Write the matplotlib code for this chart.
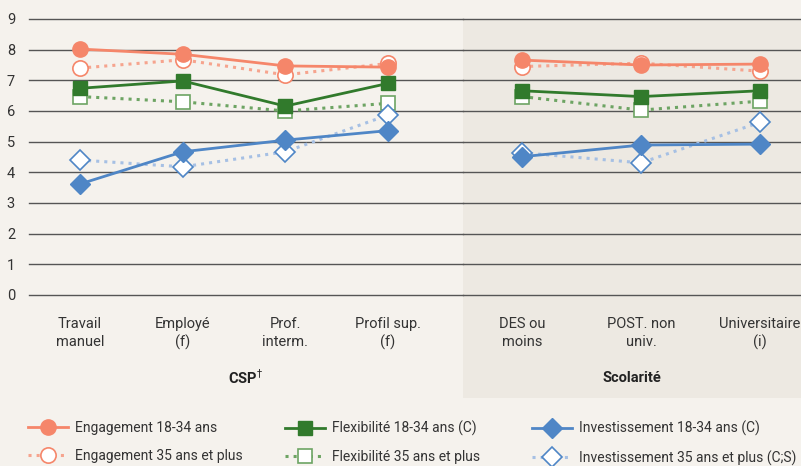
import matplotlib.pyplot as plt
from matplotlib.patches import Rectangle

plt.rcParams['font.family'] = ['Roboto', 'DejaVu Sans']

csp = ['Travail\nmanuel', 'Employé\n(f)', 'Prof.\ninterm.', 'Profil sup.\n(f)']
scol = ['DES ou\nmoins', 'POST. non\nuniv.', 'Universitaire\n(i)']

# CSP group
eng_jeune_csp = [8.02, 7.85, 7.47, 7.43]
eng_vieux_csp = [7.40, 7.67, 7.18, 7.55]
flex_jeune_csp = [6.74, 6.98, 6.16, 6.90]
flex_vieux_csp = [6.47, 6.30, 6.00, 6.25]
inv_jeune_csp = [3.62, 4.67, 5.05, 5.36]
inv_vieux_csp = [4.40, 4.18, 4.67, 5.87]

# Scolarite group
eng_jeune_sco = [7.66, 7.50, 7.53]
eng_vieux_sco = [7.45, 7.56, 7.30]
flex_jeune_sco = [6.66, 6.47, 6.66]
flex_vieux_sco = [6.47, 6.03, 6.32]
inv_jeune_sco = [4.51, 4.89, 4.92]
inv_vieux_sco = [4.64, 4.31, 5.63]

labels = ['Engagement 18-34 ans', 'Engagement 35 ans et plus',
          'Flexibilité 18-34 ans (C)', 'Flexibilité 35 ans et plus',
          'Investissement 18-34 ans (C)', 'Investissement 35 ans et plus (C;S)']

orange = '#f5866a'
orange_l = '#f6a48e'
green = '#317a2c'
green_l = '#6da463'
blue = '#4f86c6'
blue_l = '#a6c0e4'
bg = '#f5f2ed'
shade = '#ede9e2'

fig = plt.figure(figsize=(8.01, 4.66), dpi=100, facecolor=bg)
W, H = 801, 466

# shaded Scolarite panel
fig.patches.append(Rectangle((463 / W, 1 - 398 / H), 1 - 463 / W, (398 - 19) / H,
                             transform=fig.transFigure, facecolor=shade,
                             edgecolor='none', zorder=0))

y0 = 1 - 295 / H
h = (295 - 19) / H
ax1 = fig.add_axes([29 / W, y0, (463 - 29) / W, h], zorder=2)
ax2 = fig.add_axes([463 / W, y0, 1 - 463 / W, h], zorder=2)


def draw(ax, cats, data, xlim):
    x = list(range(len(cats)))
    ax.set_facecolor('none')
    ax.set_xlim(*xlim)
    ax.set_ylim(0, 9)
    for yy in range(10):
        ax.axhline(yy, color='#555555', lw=1.0, zorder=1, clip_on=False)
    e1, e2, f1, f2, i1, i2 = data
    hs = []
    hs.append(ax.plot(x, e1, '-', color=orange, lw=2, marker='o', ms=11,
                      mfc=orange, mec=orange, zorder=6, clip_on=False)[0])
    hs.append(ax.plot(x, e2, ':', color=orange_l, lw=2.2, marker='o', ms=11,
                      mfc='white', mec=orange, mew=1.2, zorder=5, clip_on=False)[0])
    hs.append(ax.plot(x, f1, '-', color=green, lw=2, marker='s', ms=10,
                      mfc=green, mec=green, zorder=6, clip_on=False)[0])
    hs.append(ax.plot(x, f2, ':', color=green_l, lw=2.2, marker='s', ms=10,
                      mfc='white', mec=green_l, mew=1.2, zorder=5, clip_on=False)[0])
    hs.append(ax.plot(x, i1, '-', color=blue, lw=2, marker='D', ms=10,
                      mfc=blue, mec=blue, zorder=6, clip_on=False)[0])
    hs.append(ax.plot(x, i2, ':', color=blue_l, lw=2.2, marker='D', ms=10,
                      mfc='white', mec=blue, mew=1.2, zorder=5, clip_on=False)[0])
    ax.set_xticks(x)
    ax.set_xticklabels(cats, fontsize=10.5, color='#333333', linespacing=1.3)
    ax.tick_params(axis='x', length=0, pad=16)
    for s in ax.spines.values():
        s.set_visible(False)
    return hs


handles = draw(ax1, csp, [eng_jeune_csp, eng_vieux_csp, flex_jeune_csp,
                          flex_vieux_csp, inv_jeune_csp, inv_vieux_csp], (-0.497, 3.73))
draw(ax2, scol, [eng_jeune_sco, eng_vieux_sco, flex_jeune_sco,
                 flex_vieux_sco, inv_jeune_sco, inv_vieux_sco], (-0.496, 2.345))

ax1.set_yticks(range(10))
ax1.set_yticklabels([str(v) for v in range(10)], fontsize=10.5, color='#333333')
ax1.tick_params(axis='y', length=0, pad=10)
ax2.set_yticks([])

ax1.text(0.5, -0.30, 'CSP$^{\\dagger}$', transform=ax1.transAxes, ha='center',
         va='center', fontsize=10.5, fontweight='bold', color='#222222')
ax2.text(0.5, -0.30, 'Scolarité', transform=ax2.transAxes, ha='center',
         va='center', fontsize=10.5, fontweight='bold', color='#222222')

# one legend per column, placed where the reference puts them
for k, xpx in enumerate([28, 285, 532]):
    leg = fig.legend(handles[2 * k:2 * k + 2], labels[2 * k:2 * k + 2], loc='upper left',
                     bbox_to_anchor=(xpx / W, 1 - 421 / H), frameon=False, fontsize=10,
                     handlelength=2.9, handletextpad=0.45, labelspacing=1.0,
                     borderpad=0, borderaxespad=0, labelcolor='#333333')

plt.savefig('out.png', dpi=100, facecolor=bg)
